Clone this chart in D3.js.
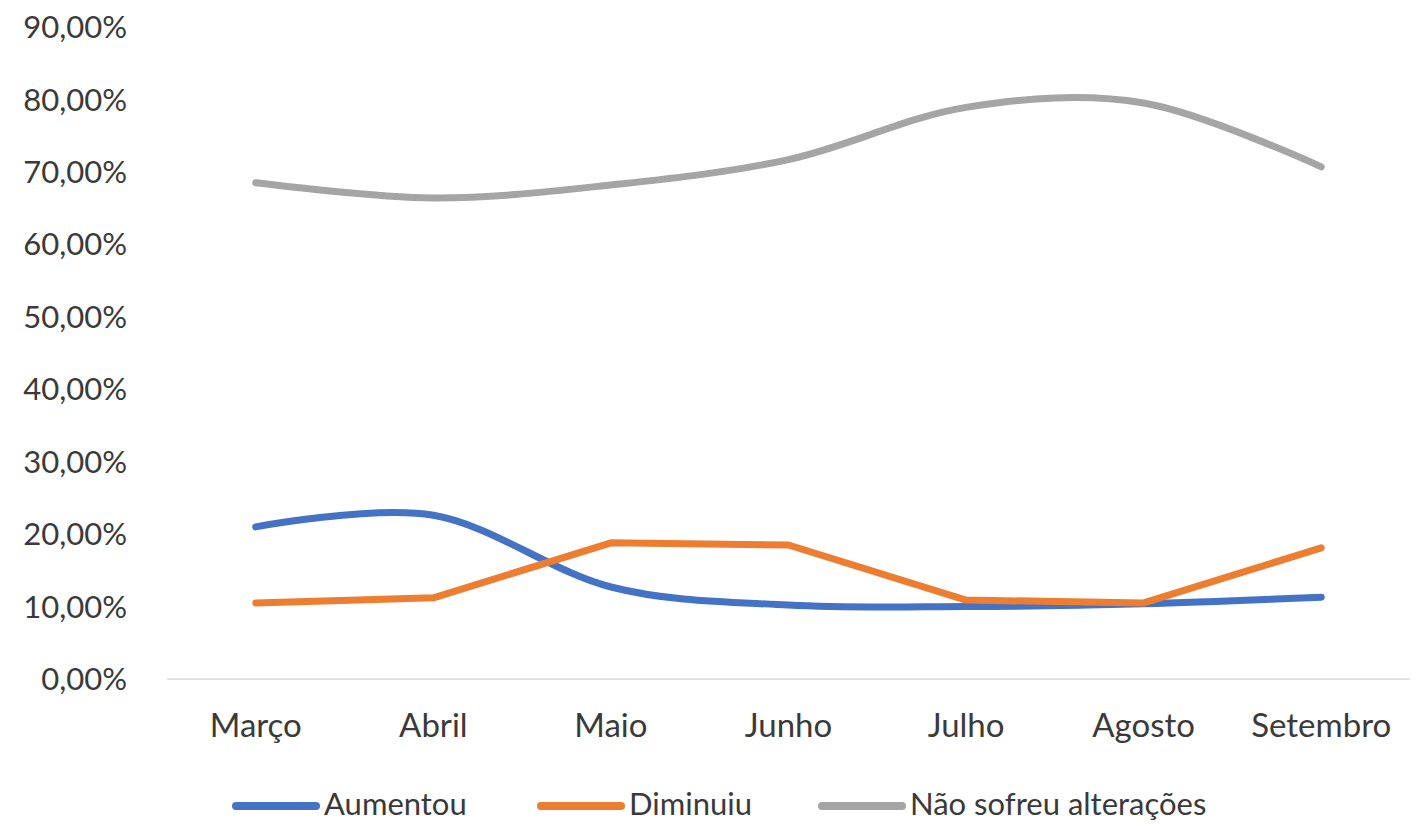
<!DOCTYPE html>
<html><head><meta charset="utf-8">
<script src="https://cdn.jsdelivr.net/npm/d3@7"></script>
<style>body{margin:0;background:#fff}svg{display:block}text{font-family:Lato,"Open Sans",sans-serif;fill:#3a3a3a}</style>
</head><body><svg id="c" width="1420" height="824"></svg>
<script>
const months = ["Março","Abril","Maio","Junho","Julho","Agosto","Setembro"];
const aumentou = [21.0, 22.6, 12.7, 10.2, 10.0, 10.4, 11.3];
const diminuiu = [10.5, 11.2, 18.8, 18.5, 10.9, 10.5, 18.1];
const naoSofreu = [68.5, 66.4, 68.2, 71.7, 78.9, 79.5, 70.7];
const yTicks = [0,10,20,30,40,50,60,70,80,90];
const seriesNames = ["Aumentou","Diminuiu","Não sofreu alterações"];
const colors = ["#4472C4","#ED7D31","#A5A5A5"];
const smooth = [true,false,true];

const svg = d3.select("#c");
const x = d3.scaleBand().domain(months).range([167,1410]);
const y = d3.scaleLinear().domain([0,90]).range([679,27]);

svg.append("line").attr("x1",167).attr("x2",1410).attr("y1",y(0)).attr("y2",y(0))
  .attr("stroke","#D9D9D9").attr("stroke-width",1.5);

svg.selectAll(".yt").data(yTicks).join("text")
  .attr("x",127).attr("y",d=>y(d)).attr("dy","0.36em").attr("text-anchor","end")
  .style("font-size","31px").text(d=>d3.format(".2f")(d).replace(".",",")+"%");

svg.selectAll(".xt").data(months).join("text")
  .attr("x",d=>x(d)+x.bandwidth()/2).attr("y",737).attr("text-anchor","middle")
  .style("font-size","33px").text(d=>d);

const all=[aumentou,diminuiu,naoSofreu];
all.forEach((vals,i)=>{
  const line=d3.line().x((d,j)=>x(months[j])+x.bandwidth()/2).y(d=>y(d))
    .curve(smooth[i]?d3.curveCatmullRom.alpha(0):d3.curveLinear);
  svg.append("path").attr("d",line(vals)).attr("fill","none").attr("stroke",colors[i])
    .attr("stroke-width",7).attr("stroke-linecap","round").attr("stroke-linejoin","round");
});

const legX=[232,537,818];
seriesNames.forEach((n,i)=>{
  svg.append("line").attr("x1",legX[i]+4).attr("x2",legX[i]+84).attr("y1",806).attr("y2",806)
    .attr("stroke",colors[i]).attr("stroke-width",8).attr("stroke-linecap","round");
  svg.append("text").attr("x",legX[i]+92).attr("y",815).style("font-size","31px").text(n);
});
</script></body></html>
